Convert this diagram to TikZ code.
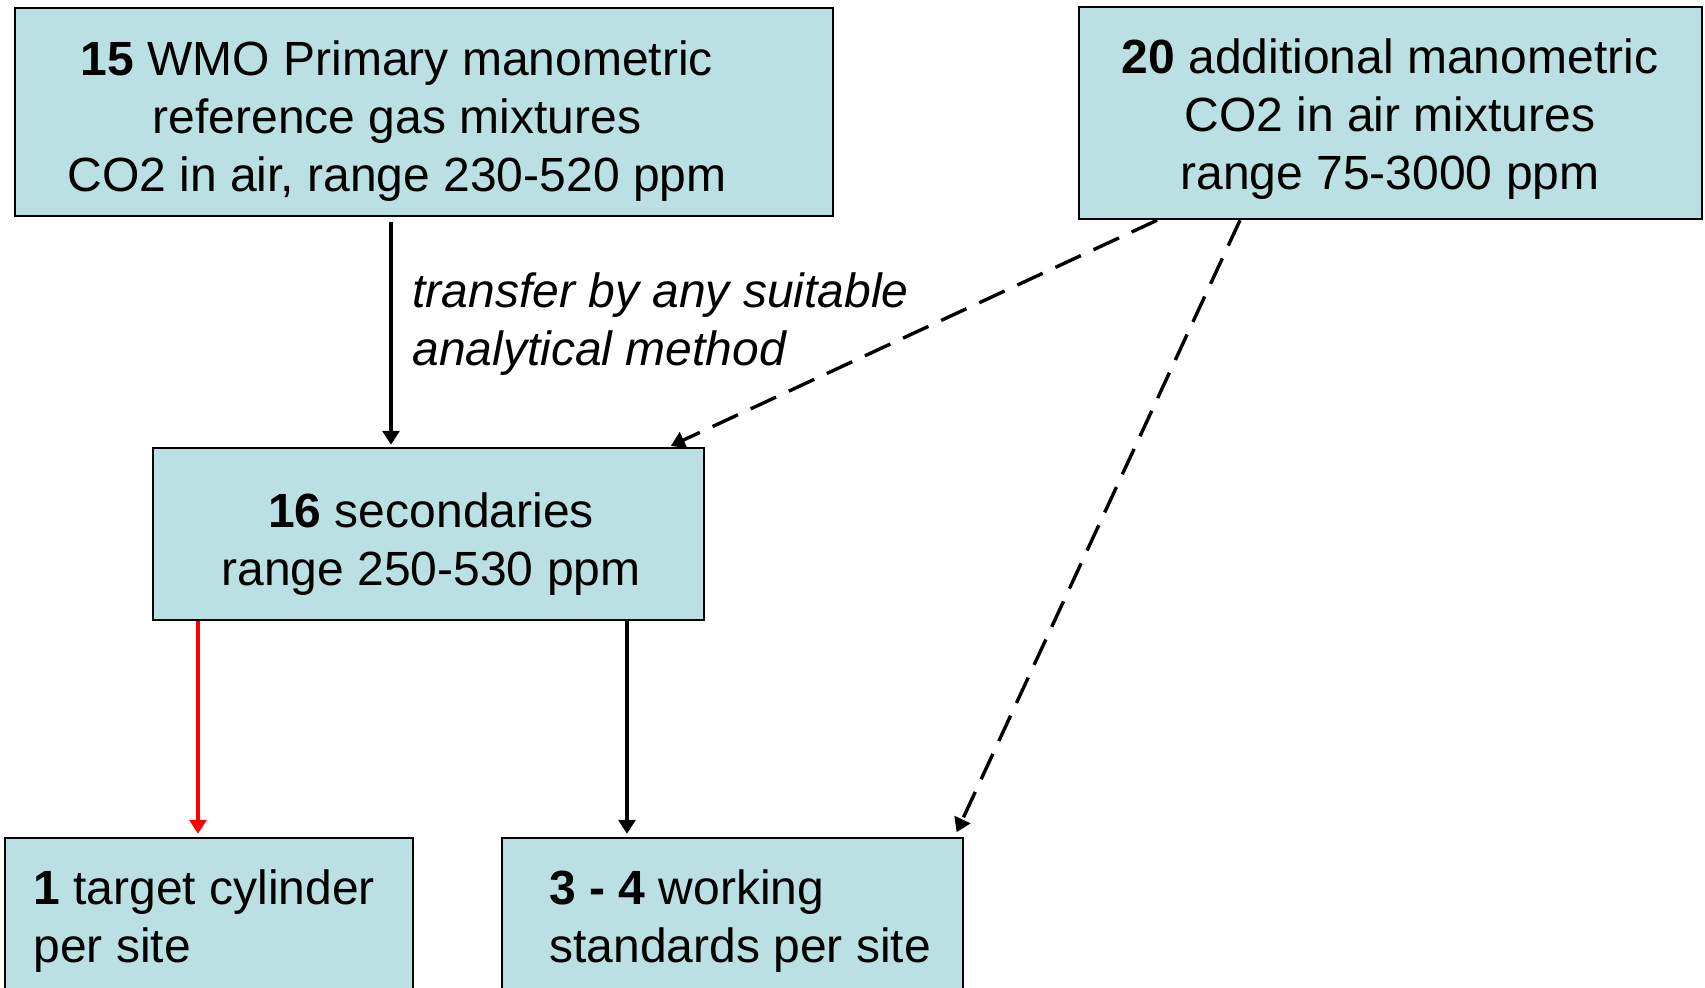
\documentclass[tikz,border=0pt]{standalone}
\usepackage{fontspec}
\setmainfont{Liberation Sans}
\usetikzlibrary{calc,arrows.meta}
\definecolor{boxfill}{RGB}{187,224,227}
\begin{document}
\begin{tikzpicture}[x=0.5pt,y=-0.5pt,
  box/.style={draw=black,line width=1.25pt,fill=boxfill,inner sep=0pt,rectangle},
  txt/.style={font=\fontsize{24}{28.8}\selectfont,inner sep=0pt},
  conn/.style={line width=1.6pt,-{Triangle[length=7pt,width=8.5pt]}},
  dsh/.style={conn,line width=1.7pt,dash pattern=on 14pt off 7pt}]
\useasboundingbox (0,0) rectangle (1705,987);
\begin{scope}
\clip (0,0) rectangle (1705,987);
\node[box,minimum width=409pt,minimum height=104pt] (b1) at (424,112) {};
\node[box,minimum width=311.5pt,minimum height=106pt] (b2) at (1390.5,113) {};
\node[box,minimum width=275.5pt,minimum height=86pt] (b3) at (428.5,534) {};
\node[box,minimum width=204pt,minimum height=81pt] (b4) at (209,919) {};
\node[box,minimum width=230.5pt,minimum height=81pt] (b5) at (732.5,919) {};
\end{scope}
\node[txt,align=center] (t1) at (397,121) {\textbf{15} WMO Primary manometric\\reference gas mixtures\\CO2 in air, range 230-520 ppm};
\node[txt,align=center] (t2) at (1390,119) {\textbf{20} additional manometric\\CO2 in air mixtures\\range 75-3000 ppm};
\node[txt,align=center] (t3) at (431,544) {\textbf{16} secondaries\\range 250-530 ppm};
\node[txt,align=left,anchor=west] (t4) at (33,921) {\textbf{1} target cylinder\\per site};
\node[txt,align=left,anchor=west] (t5) at (549,921) {\textbf{3 - 4} working\\standards per site};
\node[txt,align=left,anchor=west,font=\fontsize{24}{28.8}\selectfont\itshape] (lab) at (412,324) {transfer by any suitable\\analytical method};
\coordinate (s1) at ($(b1.south)+(-33,0)$);
\draw[conn,shorten <=2.5pt,shorten >=1pt] (s1) -- (s1 |- b3.north);
\coordinate (s2) at ($(b2.south)+(-233.5,0)$);
\coordinate (e2) at ($(b3.north)+(240.5,0)$);
\draw[dsh,shorten >=1pt] (s2) -- (e2);
\coordinate (s3) at ($(b2.south)+(-150.5,0)$);
\coordinate (e3) at ($(b5.north)+(222,0)$);
\draw[dsh,shorten >=2.5pt] (s3) -- (e3);
\coordinate (s4) at ($(b3.south)+(-230.5,0)$);
\draw[conn,red,shorten >=1.5pt] (s4) -- (s4 |- b4.north);
\coordinate (s5) at ($(b3.south)+(198.5,0)$);
\draw[conn,shorten >=1.5pt] (s5) -- (s5 |- b5.north);
\end{tikzpicture}
\end{document}
